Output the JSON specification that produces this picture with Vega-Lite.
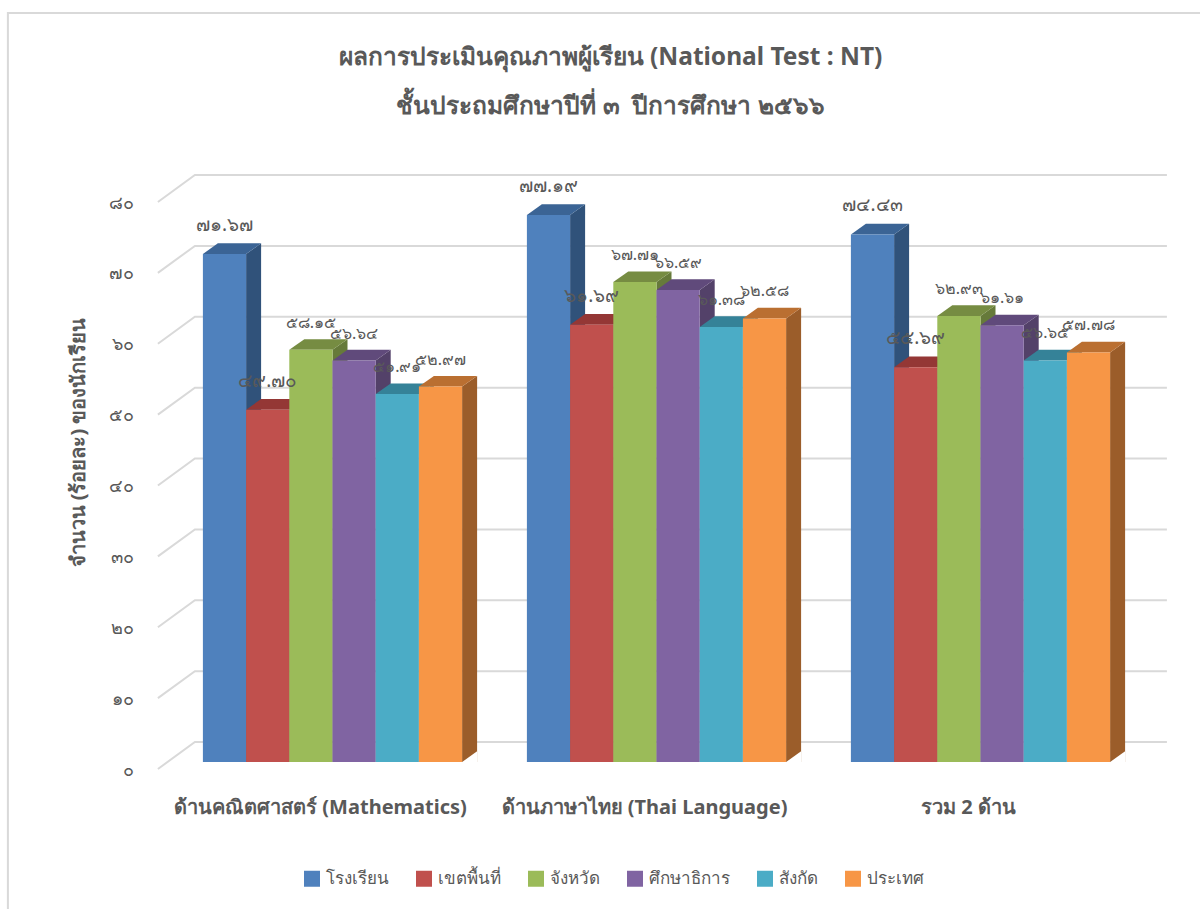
{
"$schema":"https://vega.github.io/schema/vega-lite/v6.json",
"width":972,"height":567,
"padding":{"left":170.5,"top":195,"right":57,"bottom":147},
"autosize":{"type":"none"},
"background":"white",
"config":{"font":"Noto Sans","view":{"stroke":null}},
"title":{"text":["ผลการประเมินคุณภาพผู้เรียน (National Test : NT)","ชั้นประถมศึกษาปีที่ ๓\u00a0\u00a0ปีการศึกษา ๒๕๖๖"],"fontSize":24.5,"fontWeight":"bold","color":"#595959","lineHeight":49,"anchor":"middle","frame":"group","dx":-46,"offset":-110},
"datasets":{
"bars":[
{"group":"ด้านคณิตศาสตร์ (Mathematics)","series":"โรงเรียน","value":71.67,"label":"๗๑.๖๗"},
{"group":"ด้านคณิตศาสตร์ (Mathematics)","series":"เขตพื้นที่","value":49.70,"label":"๔๙.๗๐"},
{"group":"ด้านคณิตศาสตร์ (Mathematics)","series":"จังหวัด","value":58.15,"label":"๕๘.๑๕"},
{"group":"ด้านคณิตศาสตร์ (Mathematics)","series":"ศึกษาธิการ","value":56.64,"label":"๕๖.๖๔"},
{"group":"ด้านคณิตศาสตร์ (Mathematics)","series":"สังกัด","value":51.91,"label":"๕๑.๙๑"},
{"group":"ด้านคณิตศาสตร์ (Mathematics)","series":"ประเทศ","value":52.97,"label":"๕๒.๙๗"},
{"group":"ด้านภาษาไทย (Thai Language)","series":"โรงเรียน","value":77.19,"label":"๗๗.๑๙"},
{"group":"ด้านภาษาไทย (Thai Language)","series":"เขตพื้นที่","value":61.69,"label":"๖๑.๖๙"},
{"group":"ด้านภาษาไทย (Thai Language)","series":"จังหวัด","value":67.71,"label":"๖๗.๗๑"},
{"group":"ด้านภาษาไทย (Thai Language)","series":"ศึกษาธิการ","value":66.59,"label":"๖๖.๕๙"},
{"group":"ด้านภาษาไทย (Thai Language)","series":"สังกัด","value":61.38,"label":"๖๑.๓๘"},
{"group":"ด้านภาษาไทย (Thai Language)","series":"ประเทศ","value":62.58,"label":"๖๒.๕๘"},
{"group":"รวม 2 ด้าน","series":"โรงเรียน","value":74.43,"label":"๗๔.๔๓"},
{"group":"รวม 2 ด้าน","series":"เขตพื้นที่","value":55.69,"label":"๕๕.๖๙"},
{"group":"รวม 2 ด้าน","series":"จังหวัด","value":62.93,"label":"๖๒.๙๓"},
{"group":"รวม 2 ด้าน","series":"ศึกษาธิการ","value":61.61,"label":"๖๑.๖๑"},
{"group":"รวม 2 ด้าน","series":"สังกัด","value":56.65,"label":"๕๖.๖๕"},
{"group":"รวม 2 ด้าน","series":"ประเทศ","value":57.78,"label":"๕๗.๗๘"}
],
"ticks":[{"tick":0},{"tick":10},{"tick":20},{"tick":30},{"tick":40},{"tick":50},{"tick":60},{"tick":70},{"tick":80}]
},
"data":{"name":"bars"},
"resolve":{"scale":{"color":"independent"}},
"layer":[
{"data":{"values":[{"tick":0}]},
 "mark":{"type":"point","filled":false,"size":4,"opacity":1,"stroke":"#d9d9d9","strokeWidth":2,"shape":"M -195 147 L -195 -749 L 1000 -749"},
 "encoding":{"x":{"datum":"ด้านคณิตศาสตร์ (Mathematics)","scale":{"type":"band","domain":["ด้านคณิตศาสตร์ (Mathematics)","ด้านภาษาไทย (Thai Language)","รวม 2 ด้าน"],"paddingInner":0.2,"paddingOuter":0.1},"bandPosition":0,"axis":{"title":null,"domain":false,"ticks":false,"labelAngle":0,"labelAlign":"center","labelFontSize":20,"labelFontWeight":"bold","labelColor":"#595959","labelPadding":35,"labelOffset":-12,"labelLimit":400}},
 "y":{"field":"tick","type":"quantitative","scale":{"domain":[0,80],"nice":false},"axis":{"title":"จำนวน (ร้อยละ) ของนักเรียน","titleFontSize":20,"titleFontWeight":"bold","titleColor":"#595959","titlePadding":20,"titleY":247,"grid":false,"domain":false,"ticks":false,"labelPadding":37,"labelOffset":8,"labelFontSize":18,"labelColor":"#595959","values":[0,10,20,30,40,50,60,70,80],"labelExpr":"{'0':'๐','10':'๑๐','20':'๒๐','30':'๓๐','40':'๔๐','50':'๕๐','60':'๖๐','70':'๗๐','80':'๘๐'}[datum.label]"}}}},
{"data":{"name":"ticks"},
 "mark":{"type":"point","filled":false,"size":4,"opacity":1,"stroke":"#d9d9d9","strokeWidth":2,"shape":"M -45 7 L -8 -20 L 964 -20"},
 "encoding":{"x":{"datum":"ด้านคณิตศาสตร์ (Mathematics)","bandPosition":0},
  "y":{"field":"tick","type":"quantitative"}}},
{"mark":{"type":"point","filled":true,"size":4,"opacity":1,"strokeWidth":0,"clip":true,"shape":"M 21.6 0 L 36.6 -10.7 L 36.6 600 L 21.6 600 Z"},
 "encoding":{"x":{"field":"group","type":"nominal"},"xOffset":{"field":"series","scale":{"domain":["โรงเรียน","เขตพื้นที่","จังหวัด","ศึกษาธิการ","สังกัด","ประเทศ"],"paddingInner":0,"paddingOuter":0}},"y":{"field":"value","type":"quantitative"},
  "color":{"field":"series","legend":null,"scale":{"domain":["โรงเรียน","เขตพื้นที่","จังหวัด","ศึกษาธิการ","สังกัด","ประเทศ"],"range":["#30527A","#8E3735","#667A3A","#534169","#327188","#9B5D2A"]}}}},
{"mark":{"type":"point","filled":true,"fill":"white","size":4,"opacity":1,"strokeWidth":0,"shape":"M 21.6 0 L 36.6 0 L 36.6 -10.7 Z"},
 "transform":[{"filter":"datum.series=='ประเทศ'"}],
 "encoding":{"x":{"field":"group","type":"nominal"},"xOffset":{"field":"series"},"y":{"datum":0}}},
{"mark":{"type":"point","filled":true,"size":4,"opacity":1,"strokeWidth":0,"shape":"M -21.6 0 L 21.6 0 L 36.6 -10.7 L -6.6 -10.7 Z"},
 "encoding":{"x":{"field":"group","type":"nominal"},"xOffset":{"field":"series"},"y":{"field":"value","type":"quantitative"},
  "color":{"field":"series","legend":null,"scale":{"domain":["โรงเรียน","เขตพื้นที่","จังหวัด","ศึกษาธิการ","สังกัด","ประเทศ"],"range":["#3B6495","#943735","#768C42","#604A7B","#358298","#BA6F31"]}}}},
{"mark":{"type":"bar"},
 "encoding":{"x":{"field":"group","type":"nominal"},"xOffset":{"field":"series"},"y":{"field":"value","type":"quantitative"},
  "color":{"field":"series","title":null,"scale":{"domain":["โรงเรียน","เขตพื้นที่","จังหวัด","ศึกษาธิการ","สังกัด","ประเทศ"],"range":["#4F81BD","#C0504D","#9BBB59","#8064A2","#4BACC6","#F79646"]},
   "legend":{"orient":"none","legendX":133,"legendY":675,"direction":"horizontal","symbolType":"square","symbolSize":256,"symbolStrokeWidth":0,"labelFontSize":17,"labelColor":"#595959","columnPadding":27,"labelOffset":5}}}},
{"transform":[{"filter":"datum.series=='โรงเรียน'||datum.series=='เขตพื้นที่'"}],
 "mark":{"type":"text","fontSize":19,"color":"#595959","yOffset":-29},
 "encoding":{"x":{"field":"group","type":"nominal"},"xOffset":{"field":"series"},"y":{"field":"value","type":"quantitative"},"text":{"field":"label"}}},
{"transform":[{"filter":"datum.series!='โรงเรียน'&&datum.series!='เขตพื้นที่'"}],
 "mark":{"type":"text","fontSize":16,"color":"#595959","yOffset":-27},
 "encoding":{"x":{"field":"group","type":"nominal"},"xOffset":{"field":"series"},"y":{"field":"value","type":"quantitative"},"text":{"field":"label"}}}
]
}
